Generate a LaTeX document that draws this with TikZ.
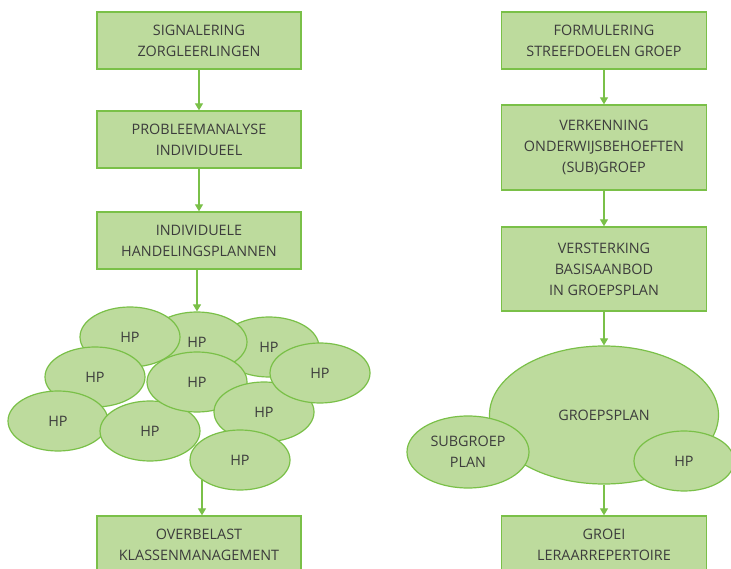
\documentclass[tikz,border=0pt]{standalone}
\usepackage{fontspec}
\setmainfont{Open Sans}
\usetikzlibrary{shapes.geometric,arrows.meta}
\definecolor{gfill}{RGB}{189,219,157}
\definecolor{gline}{RGB}{122,192,72}
\definecolor{gtext}{RGB}{60,60,60}
\begin{document}
\begin{tikzpicture}[x=1pt,y=-1pt,
  lbl/.style={text=gtext,font=\fontsize{14.4}{21}\selectfont,align=center},
  stepbox/.style={lbl,draw=gline,fill=gfill,line width=1.3pt,minimum width=204pt,inner sep=0pt},
  blob/.style={lbl,ellipse,draw=gline,fill=gfill,line width=1.2pt,inner sep=0pt},
  hp/.style={blob,minimum width=100pt,minimum height=60pt},
  arr/.style={draw=gline,line width=1.2pt,-{Triangle[width=8pt,length=7pt]}}]
\useasboundingbox (0,0) rectangle (731,569);
% left column
\node[stepbox,minimum height=57pt] (L1) at (199,40.5) {SIGNALERING\\ZORGLEERLINGEN};
\node[stepbox,minimum height=57pt] (L2) at (199,139.5) {PROBLEEMANALYSE\\INDIVIDUEEL};
\node[stepbox,minimum height=57pt] (L3) at (199,240.5) {INDIVIDUELE\\HANDELINGSPLANNEN};
\node[stepbox,minimum height=57pt] (L4) at (199,544.5) {OVERBELAST\\KLASSENMANAGEMENT};
% HP cloud
\node[hp] (E3) at (269,347) {HP};
\node[hp] (E2) at (197,342) {HP};
\node[hp] (E1) at (130,337) {HP};
\node[hp] (E5) at (95,377) {HP};
\node[hp] (E8) at (58,421) {HP};
\node[hp] (E9) at (150,431) {HP};
\node[hp] (E6) at (197,382) {HP};
\node[hp] (E7) at (264,412) {HP};
\node[hp] (E4) at (320,373) {HP};
\node[hp] (E10) at (240,460) {HP};
% right column
\node[stepbox,minimum width=205pt,minimum height=57pt] (R1) at (604,40.5) {FORMULERING\\STREEFDOELEN GROEP};
\node[stepbox,minimum width=205pt,minimum height=85pt] (R2) at (604,147.5) {VERKENNING\\ONDERWIJSBEHOEFTEN\\(SUB)GROEP};
\node[stepbox,minimum width=205pt,minimum height=84pt] (R3) at (604,269) {VERSTERKING\\BASISAANBOD\\IN GROEPSPLAN};
\node[stepbox,minimum width=205pt,minimum height=57pt] (R4) at (604,544.5) {GROEI\\LERAARREPERTOIRE};
\node[blob,minimum width=229pt,minimum height=138pt] (GP) at (604,415) {GROEPSPLAN};
\node[blob,minimum width=122pt,minimum height=72pt] (SG) at (468,452) {SUBGROEP\\PLAN};
\node[hp] (RH) at (684,461) {HP};
% arrows
\draw[arr] (L1.south) -- (L2.north);
\draw[arr] (L2.south) -- (L3.north);
\draw[arr] (E2.north |- L3.south) -- (E2.north);
\draw[arr] (E10.208) -- (E10.208 |- L4.north);
\draw[arr] (R1.south) -- (R2.north);
\draw[arr] (R2.south) -- (R3.north);
\draw[arr] (R3.south) -- (GP.north);
\draw[arr] (GP.south) -- (R4.north);
\end{tikzpicture}
\end{document}
